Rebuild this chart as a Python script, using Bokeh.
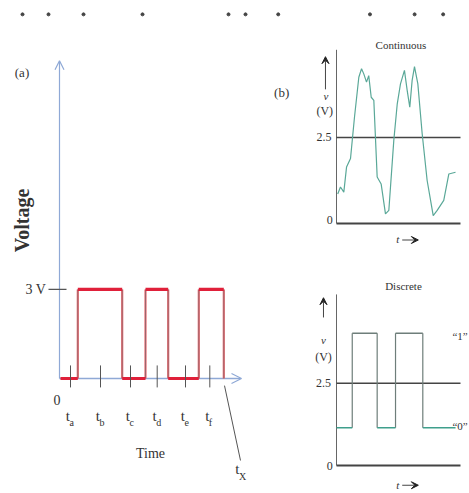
from bokeh.plotting import figure
from bokeh.layouts import row, column
from bokeh.models import Range1d, Arrow, OpenHead, VeeHead
from bokeh.core.properties import value
from bokeh.embed import file_html
from bokeh.resources import INLINE

SERIF = value("Liberation Serif")
DARK = "#333333"

# ---------------- data: panel (a) digital signal ----------------
a_edges_t = [0.1, 1.83, 6.27, 8.6, 10.87, 13.93, 16.43]   # transition times
a_levels = [0, 3, 0, 3, 0, 3]                                # level between edges (V)
a_tick_t = [1.1, 4.1, 7.1, 9.77, 12.6, 15.03]
a_tick_sub = ["a", "b", "c", "d", "e", "f"]
a_high = 3
a_xaxis_end = 18.2
a_yaxis_top = 10.7

# ---------------- data: panel (b) continuous ----------------
c_t = [0.10, 0.32, 0.59, 0.81, 1.13, 1.45, 1.80, 2.02, 2.20, 2.42, 2.60, 2.80, 3.01,
       3.28, 3.60, 3.95, 4.22, 4.62, 4.90, 5.16, 5.48, 5.70, 5.91, 6.10, 6.29, 6.56,
       6.91, 7.31, 7.80, 8.12, 8.65, 9.06, 9.60]
c_v = [0.86, 1.06, 0.91, 1.64, 1.89, 3.09, 4.25, 4.50, 4.35, 4.11, 4.30, 3.67, 3.58,
       1.35, 1.15, 0.28, 0.38, 2.41, 3.48, 4.06, 4.45, 3.87, 3.38, 4.16, 4.56, 4.06,
       2.61, 1.25, 0.23, 0.38, 0.67, 1.44, 1.49]
threshold = 2.5
b_axis_end = 10.0
b_yaxis_top = 5.05

# ---------------- data: panel (b) discrete ----------------
d_edges_t = [0.0, 1.27, 3.28, 4.76, 6.96, 9.6]
d_levels = [1.15, 4.02, 1.15, 4.02, 1.15]
d_yaxis_top = 5.2

# stray marks at the top edge (remnants of cut-off text)
top_marks_a = [-3.7, -1.1, 2.4, 8.3, 16.9, 18.6]
top_marks_b = [-4.7, 2.7, 6.3, 8.6]


def base_fig(w, h, xr, yr):
    p = figure(width=w, height=h, x_range=Range1d(*xr), y_range=Range1d(*yr),
               output_backend="svg", toolbar_location=None,
               x_axis_location=None, y_axis_location=None, min_border=0)
    p.outline_line_color = None
    p.grid.visible = False
    return p


def txt(p, x, y, s, size, align="center", baseline="middle", angle=0, style="normal",
        color=DARK):
    p.text(x=[x], y=[y], text=[s], text_font=SERIF, text_font_size=size,
           text_align=align, text_baseline=baseline, angle=angle,
           text_font_style=style, text_color=color)


# ================= panel (a) =================
pa = base_fig(268, 493, (-5.9, 20.9), (-3.872, 12.727))
AX = "#8fa9d6"
pa.add_layout(Arrow(end=OpenHead(size=9, line_color=AX, line_width=1.2),
                    x_start=0, y_start=0, x_end=0, y_end=a_yaxis_top,
                    line_color=AX, line_width=1.2, level="underlay"))
pa.add_layout(Arrow(end=OpenHead(size=10, line_color=AX, line_width=1.2),
                    x_start=0, y_start=0, x_end=a_xaxis_end, y_end=0,
                    line_color=AX, line_width=1.5, level="underlay"))

# signal: verticals thin, horizontals thick
vx = a_edges_t[1:]
vy0 = [a_levels[i] for i in range(len(a_levels))]
vy1 = [a_levels[i + 1] if i + 1 < len(a_levels) else 0 for i in range(len(a_levels))]
pa.segment(x0=vx, y0=vy0, x1=vx, y1=vy1, line_color="#e86a72", line_width=2.2)
pa.segment(x0=vx, y0=vy0, x1=vx, y1=vy1, line_color="#8a6468", line_width=0.8)
pa.segment(x0=a_edges_t[:-1], y0=a_levels, x1=a_edges_t[1:], y1=a_levels,
           line_color="#e0203a", line_width=3.2)

# ticks on time axis
pa.segment(x0=a_tick_t, y0=[0.44] * 6, x1=a_tick_t, y1=[-0.30] * 6,
           line_color="#555555", line_width=1)

# 3 V marker
pa.segment(x0=[-1.1], y0=[a_high], x1=[0.7], y1=[a_high], line_color="#555555", line_width=1.2)
txt(pa, -1.35, a_high, "3 V", "14px", align="right")
txt(pa, -0.25, -0.74, "0", "14px")

for tt, sub in zip(a_tick_t, a_tick_sub):
    txt(pa, tt - 0.05, -1.25, "t", "15px", align="right")
    txt(pa, tt - 0.1, -1.47, sub, "10px", align="left")

txt(pa, 9.1, -2.53, "Time", "14px")
pa.segment(x0=[16.5], y0=[-0.24], x1=[18.1], y1=[-2.76], line_color="#555555", line_width=1)
txt(pa, 18.0, -3.05, "t", "15px", align="right")
txt(pa, 17.95, -3.3, "X", "10px", align="left")

txt(pa, -3.75, 5.32, "Voltage", "20px", angle=1.5708, style="bold")
txt(pa, -3.75, 10.31, "(a)", "13px")
pa.scatter(x=top_marks_a, y=[12.26] * len(top_marks_a), size=3, color="#444444")

# ================= panel (b) continuous =================
pb = base_fig(201, 246, (-5.484, 10.726), (-0.669, 6.483))
pb.segment(x0=[0], y0=[0], x1=[0], y1=[b_yaxis_top], line_color="#666666", line_width=1)
pb.segment(x0=[0], y0=[0], x1=[b_axis_end], y1=[0], line_color="#444444", line_width=2)
pb.segment(x0=[0], y0=[threshold], x1=[b_axis_end], y1=[threshold], line_color="#444444", line_width=1.5)
pb.line(c_t, c_v, line_color="#5aa898", line_width=1.2)
pb.add_layout(Arrow(end=VeeHead(size=7, fill_color="#222222", line_color="#222222"),
                    x_start=-0.89, y_start=3.9, x_end=-0.89, y_end=4.85,
                    line_color="#444444", line_width=1))
txt(pb, -0.85, 3.72, "v", "11px", style="italic")
txt(pb, -0.95, 3.28, "(V)", "12px")
txt(pb, -1.0, threshold + 0.02, "2.5", "12px")
txt(pb, -0.55, 0.09, "0", "12px")
txt(pb, 5.2, 5.2, "Continuous", "11px")
txt(pb, -4.42, 3.81, "(b)", "13px")
txt(pb, 4.95, -0.45, "t", "11px", style="italic")
pb.add_layout(Arrow(end=VeeHead(size=7, fill_color="#222222", line_color="#222222"),
                    x_start=5.3, y_start=-0.48, x_end=6.6, y_end=-0.48,
                    line_color="#444444", line_width=1.2))
pb.scatter(x=top_marks_b, y=[6.08] * len(top_marks_b), size=3, color="#444444")

# ================= panel (b) discrete =================
pd_ = base_fig(201, 247, (-5.484, 10.726), (-0.851, 6.657))
pd_.segment(x0=[0], y0=[0], x1=[0], y1=[d_yaxis_top], line_color="#666666", line_width=1)
pd_.segment(x0=[0], y0=[0], x1=[b_axis_end], y1=[0], line_color="#444444", line_width=2)
pd_.segment(x0=[0], y0=[threshold], x1=[b_axis_end], y1=[threshold], line_color="#444444", line_width=1.5)
dvx = d_edges_t[1:-1]
pd_.segment(x0=dvx, y0=d_levels[:-1], x1=dvx, y1=d_levels[1:], line_color="#6e7e7a", line_width=1.2)
for i, lvl in enumerate(d_levels):
    col = "#3f9f8c" if lvl < threshold else "#6e7e7a"
    pd_.segment(x0=[d_edges_t[i]], y0=[lvl], x1=[d_edges_t[i + 1]], y1=[lvl],
                line_color=col, line_width=1.5)
pd_.add_layout(Arrow(end=VeeHead(size=7, fill_color="#222222", line_color="#222222"),
                     x_start=-1.05, y_start=4.5, x_end=-1.05, y_end=5.1,
                     line_color="#444444", line_width=1))
txt(pd_, -1.05, 3.8, "v", "11px", style="italic")
txt(pd_, -1.05, 3.29, "(V)", "12px")
txt(pd_, -1.05, threshold, "2.5", "12px")
txt(pd_, -0.55, 0.0, "0", "12px")
txt(pd_, 5.4, 5.45, "Discrete", "11px")
txt(pd_, 9.35, 3.95, "\u201c1\u201d", "11px", align="left")
txt(pd_, 9.35, 1.2, "\u201c0\u201d", "11px", align="left")
txt(pd_, 4.95, -0.6, "t", "11px", style="italic")
pd_.add_layout(Arrow(end=VeeHead(size=7, fill_color="#222222", line_color="#222222"),
                     x_start=5.3, y_start=-0.6, x_end=6.6, y_end=-0.6,
                     line_color="#444444", line_width=1.2))

layout = row(pa, column(pb, pd_))
open("out.html", "w").write(file_html(layout, INLINE))
